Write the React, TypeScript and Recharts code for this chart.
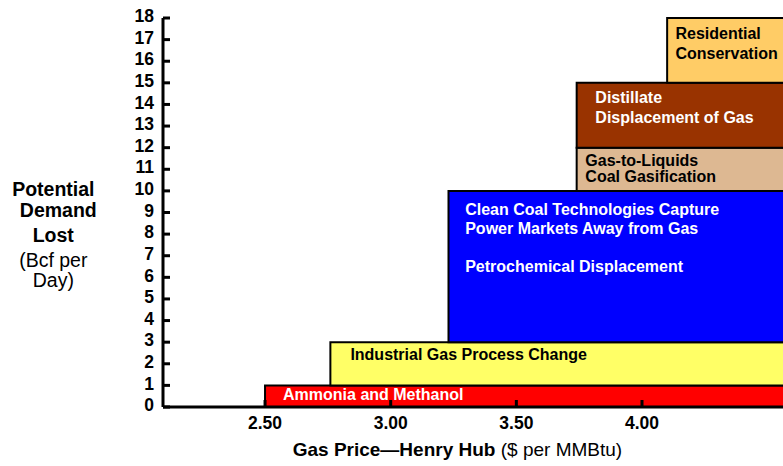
import React from 'react';
import { ComposedChart, XAxis, YAxis, ReferenceArea, Label, Scatter } from 'recharts';

// ---- data ----
const segmentNames = [
  'Ammonia and Methanol',
  'Industrial Gas Process Change',
  'Clean Coal / Petrochemical',
  'Gas-to-Liquids / Coal Gasification',
  'Distillate Displacement of Gas',
  'Residential Conservation',
];
const startPrice = [2.5, 2.76, 3.23, 3.74, 3.74, 4.1];
const demandFrom = [0, 1, 3, 10, 12, 15];
const demandTo = [1, 3, 10, 12, 15, 18];
const segmentText: string[][] = [
  ['Ammonia and Methanol'],
  ['Industrial Gas Process Change'],
  ['Clean Coal Technologies Capture', 'Power Markets Away from Gas', '', 'Petrochemical Displacement'],
  ['Gas-to-Liquids', 'Coal Gasification'],
  ['Distillate', 'Displacement of Gas'],
  ['Residential', 'Conservation'],
];
const xTicks = [2.5, 3.0, 3.5, 4.0];
const yTicks = [0, 1, 2, 3, 4, 5, 6, 7, 8, 9, 10, 11, 12, 13, 14, 15, 16, 17, 18];
const priceMax = 4.6; // boxes run off the right edge
const xDomain: [number, number] = [2.094, 4.561];
const yDomain: [number, number] = [0, 18];

const chartData = startPrice.map((p, i) => ({ price: p, demand: demandTo[i] }));

// ---- styles ----
const FONT = '"Liberation Sans", Arial, Helvetica, sans-serif';
const fills = ['#FF0000', '#FFFF66', '#0000FF', '#DDB892', '#993300', '#FFCC66'];
const textColors = ['#FFFFFF', '#000000', '#FFFFFF', '#000000', '#FFFFFF', '#000000'];
// [dx from box left, dy of first baseline from box top, line height]
const textLayout: [number, number, number][] = [
  [18, 14.7, 19],
  [20, 18, 19],
  [16.7, 24.3, 19],
  [8.7, 18.4, 16.3],
  [18.7, 20, 19.7],
  [8.3, 21, 19.7],
];

const makeBoxLabel = (i: number) => (props: any) => {
  const vb = props.viewBox || {};
  const [dx, dy, lh] = textLayout[i];
  const x = (vb.x ?? 0) + dx;
  const y0 = (vb.y ?? 0) + dy;
  return (
    <text
      fontFamily={FONT}
      fontWeight="bold"
      fontSize={16}
      fill={textColors[i]}
      textAnchor="start"
    >
      {segmentText[i].map((line, j) => (
        <tspan key={j} x={x} y={y0 + j * lh}>
          {line}
        </tspan>
      ))}
    </text>
  );
};

const yTitle = (props: any) => {
  const vb = props.viewBox || { x: 0, y: 18 };
  const cx = (vb.x ?? 0) + 53.3;
  const top = vb.y ?? 18;
  return (
    <text fontFamily={FONT} fontSize={19.5} fill="#000" textAnchor="middle">
      <tspan x={cx} y={top + 178} fontWeight="bold">Potential</tspan>
      <tspan x={cx + 5} y={top + 198.7} fontWeight="bold">Demand</tspan>
      <tspan x={cx} y={top + 223.7} fontWeight="bold">Lost</tspan>
      <tspan x={cx} y={top + 248.7}>(Bcf per</tspan>
      <tspan x={cx} y={top + 268.7}>Day)</tspan>
    </text>
  );
};

const xTitle = (props: any) => {
  const vb = props.viewBox || { x: 163, y: 407 };
  const x = (vb.x ?? 163) + 129.7;
  const y = (vb.y ?? 407) + 49;
  return (
    <text x={x} y={y} fontFamily={FONT} fontSize={19} fill="#000" textAnchor="start">
      <tspan fontWeight="bold">Gas Price—Henry Hub</tspan>
      <tspan> ($ per MMBtu)</tspan>
    </text>
  );
};

export default function App() {
  return (
    <div style={{ position: 'fixed', left: 0, top: 0, width: 783, height: 466, background: '#fff' }}>
      <ComposedChart
        width={783}
        height={466}
        margin={{ top: 18, right: 0, bottom: 0, left: 0 }}
        data={chartData}
      >
        {segmentNames.map((name, i) => (
          <ReferenceArea
            key={name}
            x1={startPrice[i]}
            x2={priceMax}
            y1={demandFrom[i]}
            y2={demandTo[i]}
            fill={fills[i]}
            fillOpacity={1}
            stroke="#000"
            strokeWidth={2}
            ifOverflow="visible"
            label={makeBoxLabel(i)}
          />
        ))}
        <Scatter dataKey="demand" fill="none" shape={() => null} isAnimationActive={false} />
        <XAxis
          type="number"
          dataKey="price"
          domain={xDomain}
          allowDataOverflow
          ticks={xTicks}
          tickFormatter={(v: number) => v.toFixed(2)}
          interval={0}
          height={59}
          axisLine={{ stroke: '#000', strokeWidth: 3 }}
          tickLine={{ stroke: '#000', strokeWidth: 3 }}
          tickSize={-7}
          tickMargin={17}
          tick={{ fill: '#000', fontSize: 17.5, fontWeight: 'bold', fontFamily: FONT }}
        >
          <Label content={xTitle} />
        </XAxis>
        <YAxis
          type="number"
          dataKey="demand"
          domain={yDomain}
          allowDataOverflow
          ticks={yTicks}
          interval={0}
          width={163}
          axisLine={{ stroke: '#000', strokeWidth: 3 }}
          tickLine={{ stroke: '#000', strokeWidth: 3 }}
          tickSize={-7}
          tickMargin={16}
          tick={{ fill: '#000', fontSize: 17.5, fontWeight: 'bold', fontFamily: FONT, dy: -2 }}
        >
          <Label content={yTitle} />
        </YAxis>
      </ComposedChart>
    </div>
  );
}
